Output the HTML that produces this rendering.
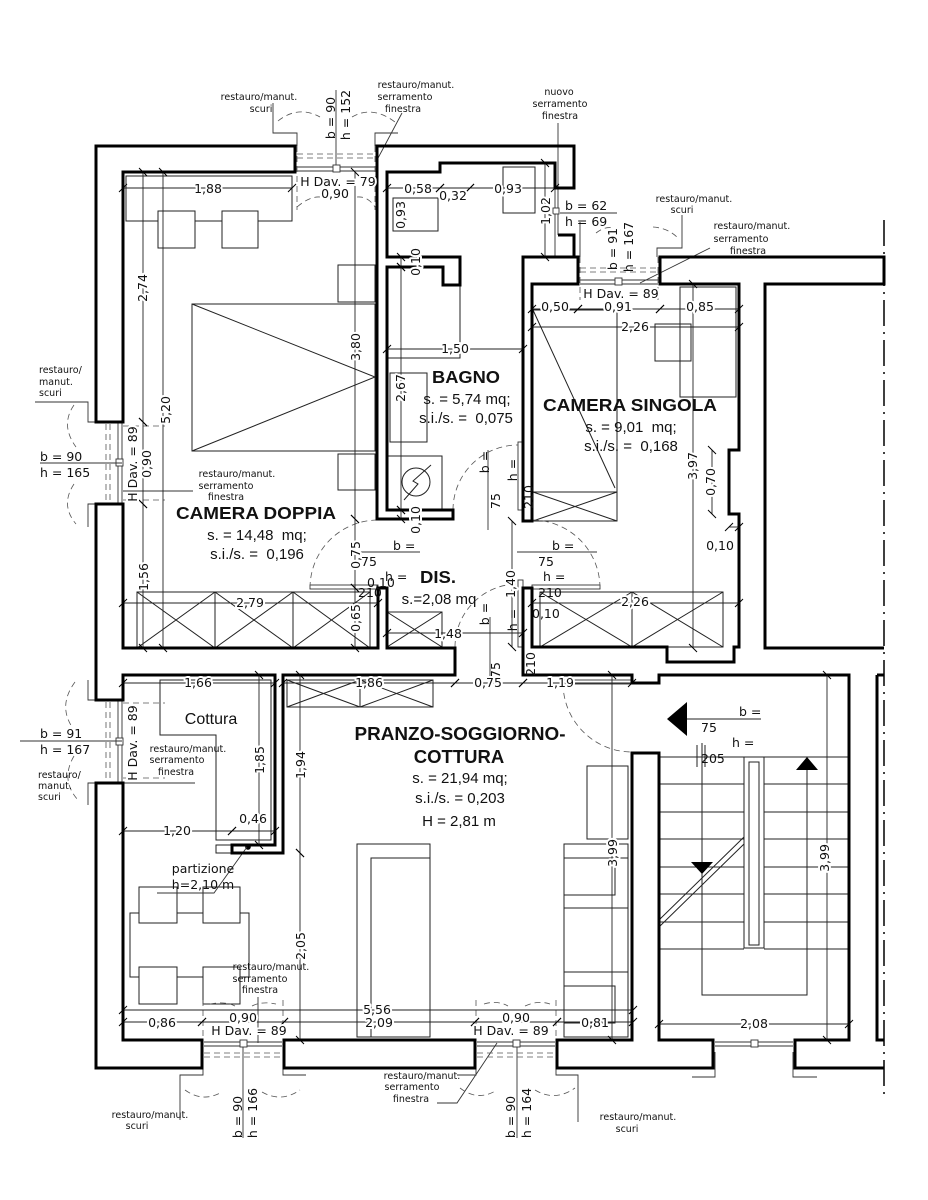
<!DOCTYPE html>
<html><head><meta charset="utf-8"><style>
html,body{margin:0;padding:0;background:#fff}
svg{display:block}
text{font-family:"DejaVu Sans","Liberation Sans",sans-serif;font-size:12.5px;fill:#111;white-space:pre}
.d{stroke:#fff;stroke-width:4px;paint-order:stroke;stroke-linejoin:round}
.s{font-size:9.5px}
.b{font-family:"Liberation Sans",sans-serif;font-weight:bold;font-size:17.5px}
.r{font-family:"Liberation Sans",sans-serif;font-size:15px}
</style></head><body>
<svg width="928" height="1200" viewBox="0 0 928 1200" xmlns="http://www.w3.org/2000/svg" xml:space="preserve">
<defs>
<marker id="t" markerUnits="userSpaceOnUse" markerWidth="12" markerHeight="12" refX="6" refY="6" orient="auto"><path d="M2,10 L10,2" stroke="#000" stroke-width="1" fill="none"/></marker>
</defs>
<rect width="928" height="1200" fill="#fff"/>

<!-- property dash-dot line -->
<line x1="884" y1="220" x2="884" y2="1100" stroke="#111" stroke-width="1.6" stroke-dasharray="26,6,2,6"/>

<!-- furniture -->
<g stroke="#222" stroke-width="1" fill="none">
<rect x="126" y="176" width="166" height="45"/>
<rect x="158" y="211" width="37" height="37" fill="#fff"/>
<rect x="222" y="211" width="36" height="37" fill="#fff"/>
<rect x="338" y="265" width="37" height="37"/>
<rect x="192" y="304" width="183" height="147"/>
<path d="M192,304 L375,377 L192,451"/>
<rect x="338" y="454" width="37" height="36"/>
<rect x="137" y="592" width="233" height="56"/>
<path d="M215,592 V648 M293,592 V648 M137,592 L215,648 M137,648 L215,592 M215,592 L293,648 M215,648 L293,592 M293,592 L370,648 M293,648 L370,592"/>
<!-- bath -->
<rect x="393" y="198" width="45" height="33"/>
<rect x="503" y="167" width="32" height="46"/>
<path d="M460,285 V358 H387"/>
<rect x="390" y="373" width="37" height="69"/>
<rect x="387" y="456" width="55" height="54"/>
<circle cx="416" cy="482" r="14"/>
<path d="M404,500 L418,484 L413,481 L431,465"/>
<!-- dis closet -->
<rect x="387" y="612" width="55" height="35"/>
<path d="M387,612 L442,647 M387,647 L442,612"/>
<!-- camera singola -->
<rect x="533" y="310" width="84" height="211"/>
<path d="M533,310 L615,488 M533,492 H617 M533,492 L617,521 M533,521 L617,492"/>
<rect x="655" y="324" width="36" height="37"/>
<rect x="680" y="287" width="56" height="110"/>
<rect x="540" y="592" width="183" height="55"/>
<path d="M632,592 V647 M540,592 L632,647 M540,647 L632,592 M632,592 L723,647 M632,647 L723,592"/>
<!-- cottura -->
<path d="M160,680 H271 V840 H216 V735 H160 Z"/>
<rect x="216" y="845" width="16" height="8"/>
<!-- pranzo -->
<rect x="287" y="680" width="146" height="27"/>
<path d="M360,680 V707 M287,680 L360,707 M287,707 L360,680 M360,680 L433,707 M360,707 L433,680"/>
<rect x="130" y="913" width="119" height="64"/>
<rect x="139" y="887" width="38" height="36" fill="#fff"/>
<rect x="203" y="887" width="37" height="36" fill="#fff"/>
<rect x="139" y="967" width="38" height="37" fill="#fff"/>
<rect x="203" y="967" width="37" height="37" fill="#fff"/>
<rect x="357" y="844" width="73" height="193"/>
<path d="M371,1037 V858 H430"/>
<rect x="587" y="766" width="41" height="73"/>
<rect x="564" y="844" width="64" height="193"/>
<path d="M564,858 H628 M564,895 H615 V858 M564,908 H628 M564,972 H628 M564,986 H615 V1023 H564"/>
<!-- stairs -->
<path d="M659,757 H849 M659,784 H744 M764,784 H849 M659,812 H744 M764,812 H849 M659,839 H744 M764,839 H849 M659,867 H744 M764,867 H849 M659,894 H744 M764,894 H849 M659,922 H744 M764,922 H849 M659,949 H744 M764,949 H849"/>
<rect x="744" y="757" width="20" height="191" fill="#fff"/>
<rect x="749" y="762" width="10" height="183"/>
<path d="M659,920 L744,837 M659,927 L744,844"/>
<path d="M702,743 V862 M702,873 V995 H807 V769"/>
<path d="M687,719 H761"/>
<path d="M697,745 V767 M705,745 V767"/>
</g>
<g fill="#000">
<path d="M691,862 H713 L702,874 Z"/>
<path d="M796,770 H818 L807,757 Z"/>
<path d="M667,719 L687,702 V736 Z"/>
<circle cx="248" cy="847" r="2.8"/>
</g>

<!-- windows & thin details -->
<g stroke="#333" stroke-width="0.9" fill="none">
<path d="M297,167 H375 M297,171 H375"/>
<rect x="333" y="165" width="7" height="7" fill="#fff"/>
<path d="M273,103 V133 H297 V146 M375,146 V133 H398"/>
<path d="M336,90 V165"/>
<path d="M402,113 L377,160"/>
<path d="M580,280 H658 M580,284 H658"/>
<rect x="615" y="278" width="7" height="7" fill="#fff"/>
<path d="M682,215 V248 H657 V257 M580,222 V257"/>
<path d="M710,248 L640,283"/>
<path d="M560,213 H617"/>
<path d="M555,188 V235 M558,188 V235 M555,235 V257"/>
<rect x="553" y="208" width="6" height="6" fill="#fff"/>
<path d="M558,123 V188"/>
<path d="M118,422 V504 M122,422 V504"/>
<rect x="116" y="459" width="7" height="7" fill="#fff"/>
<path d="M35,402 H88 V422 H96 M88,527 V504 H96"/>
<path d="M40,463 H122"/>
<path d="M123,491 H193"/>
<path d="M118,700 V783 M122,700 V783"/>
<rect x="116" y="738" width="7" height="7" fill="#fff"/>
<path d="M88,680 V700 H96 M88,805 V783 H96"/>
<path d="M20,741 H122"/>
<path d="M123,783 H195"/>
<path d="M204,1042 H282 M204,1046 H282"/>
<rect x="240" y="1040" width="7" height="7" fill="#fff"/>
<path d="M180,1120 V1075 H203 V1052 M283,1052 V1075 H306"/>
<path d="M243,1047 V1138 M258,997 V1043"/>
<path d="M477,1042 H555 M477,1046 H555"/>
<rect x="513" y="1040" width="7" height="7" fill="#fff"/>
<path d="M457,1075 H476 V1052 M556,1052 V1075 H578 V1122"/>
<path d="M517,1047 V1138"/>
<path d="M437,1103 H457 L497,1043"/>
<path d="M715,1042 H793 M715,1046 H793"/>
<rect x="751" y="1040" width="7" height="7" fill="#fff"/>
<path d="M692,1077 H715 V1052 M793,1052 V1077 H817"/>
<path d="M247,847 L214,893 H157"/>
<rect x="310" y="585" width="68" height="4" fill="#fff"/>
<rect x="532" y="585" width="68" height="4" fill="#fff"/>
<rect x="518" y="442" width="5" height="68" fill="#fff"/>
<rect x="518" y="580" width="5" height="67" fill="#fff"/>
<rect x="563" y="680" width="69" height="4" fill="#fff"/>
<path d="M357,552 H420 M517,552 H597 M488,450 V530 M490,617 V683"/>
</g>

<!-- dashed -->
<g stroke="#555" stroke-width="0.8" fill="none" stroke-dasharray="6,4">
<path d="M297,154 H375 M297,158 H375 M297,146 V210 M375,146 V210"/>
<path d="M278,121 Q298,105 320,117 M352,117 Q372,105 395,122 M297,207 Q310,196 320,197 M357,197 Q368,196 375,207"/>
<path d="M580,268 H658 M580,272 H658 M580,257 V300 M658,257 V300"/>
<path d="M596,233 Q605,226 613,228 M653,227 Q668,228 678,238"/>
<path d="M106,424 V502 M110,424 V502 M123,426 H165 M123,500 H165"/>
<path d="M74,405 Q60,425 76,447 M74,484 Q60,505 76,524"/>
<path d="M106,702 V781 M110,702 V781 M123,703 H165 M123,778 H165"/>
<path d="M75,682 Q58,705 72,727 M74,756 Q60,780 78,800"/>
<path d="M204,1053 H282 M204,1057 H282 M203,1000 V1040 M283,1000 V1040"/>
<path d="M185,1090 Q203,1103 222,1092 M262,1092 Q281,1103 300,1090 M210,1004 Q225,1001 235,1006 M252,1006 Q262,1001 276,1004"/>
<path d="M477,1053 H555 M477,1057 H555 M476,1000 V1040 M556,1000 V1040"/>
<path d="M460,1088 Q478,1102 497,1090 M535,1090 Q555,1102 575,1088 M484,1004 Q497,1000 508,1006 M525,1006 Q538,1000 550,1004"/>
<path d="M310,588 A68,68 0 0 1 378,520"/>
<path d="M600,588 A68,68 0 0 0 532,520"/>
<path d="M453,510 A65,65 0 0 1 518,445"/>
<path d="M455,647 A63,63 0 0 1 518,584"/>
<path d="M563,683 A69,69 0 0 0 632,752"/>
</g>

<!-- dimension lines -->
<g stroke="#222" stroke-width="0.9" fill="none" marker-start="url(#t)" marker-end="url(#t)">
<line x1="123" y1="188" x2="292" y2="188"/>
<line x1="387" y1="188" x2="440" y2="188"/>
<line x1="440" y1="188" x2="470" y2="188"/>
<line x1="470" y1="188" x2="555" y2="188"/>
<line x1="532" y1="309" x2="578" y2="309"/>
<line x1="578" y1="309" x2="660" y2="309"/>
<line x1="660" y1="309" x2="739" y2="309"/>
<line x1="532" y1="327" x2="739" y2="327"/>
<line x1="387" y1="349" x2="523" y2="349"/>
<line x1="123" y1="603" x2="378" y2="603"/>
<line x1="532" y1="603" x2="739" y2="603"/>
<line x1="387" y1="633" x2="523" y2="633"/>
<line x1="729" y1="527" x2="739" y2="527"/>
<line x1="123" y1="683" x2="275" y2="683"/>
<line x1="283" y1="683" x2="455" y2="683"/>
<line x1="455" y1="683" x2="523" y2="683"/>
<line x1="523" y1="683" x2="632" y2="683"/>
<line x1="123" y1="831" x2="232" y2="831"/>
<line x1="232" y1="831" x2="275" y2="831"/>
<line x1="123" y1="1010" x2="633" y2="1010"/>
<line x1="123" y1="1022" x2="202" y2="1022"/>
<line x1="202" y1="1022" x2="284" y2="1022"/>
<line x1="284" y1="1022" x2="475" y2="1022"/>
<line x1="475" y1="1022" x2="557" y2="1022"/>
<line x1="557" y1="1022" x2="633" y2="1022"/>
<line x1="659" y1="1024" x2="849" y2="1024"/>
<line x1="143" y1="172" x2="143" y2="422"/>
<line x1="143" y1="422" x2="143" y2="504"/>
<line x1="143" y1="504" x2="143" y2="648"/>
<line x1="163" y1="172" x2="163" y2="648"/>
<line x1="355" y1="172" x2="355" y2="519"/>
<line x1="355" y1="519" x2="355" y2="588"/>
<line x1="355" y1="588" x2="355" y2="648"/>
<line x1="401" y1="257" x2="401" y2="267"/>
<line x1="401" y1="267" x2="401" y2="510"/>
<line x1="401" y1="510" x2="401" y2="519"/>
<line x1="545" y1="163" x2="545" y2="257"/>
<line x1="693" y1="284" x2="693" y2="648"/>
<line x1="712" y1="450" x2="712" y2="514"/>
<line x1="512" y1="521" x2="512" y2="647"/>
<line x1="259" y1="675" x2="259" y2="845"/>
<line x1="300" y1="675" x2="300" y2="853"/>
<line x1="300" y1="853" x2="300" y2="1040"/>
<line x1="612" y1="675" x2="612" y2="1040"/>
<line x1="827" y1="675" x2="827" y2="1040"/>
</g>

<!-- walls -->
<path fill="none" stroke="#000" stroke-width="3" stroke-linejoin="miter" d="
M295,146 H96 V422 H123 V172 H295 Z
M96,504 H123 V648 H378 V588 H387 V648 H455 V675 H283 V853 H232 V845 H275 V675 H123 V700 H96 Z
M96,783 H123 V1040 H202 V1068 H96 Z
M284,1068 V1040 H475 V1068 Z
M557,1068 V1040 H632 V753 H659 V1040 H713 V1068 Z
M884,1068 H795 V1040 H849 V675 H659 V683 H632 V675 H523 V588 H532 V647 H667 V662 H734 V647 H739 V514 H729 V450 H739 V284 H660 V257 H884 V284 H765 V648 H884
M523,521 H532 V284 H578 V257 H523 Z
M574,257 V235 H558
M377,146 V519 H453 V510 H387 V267 H443 V285 H460 V257 H387 V172 H440 V163 H555 V188 H574 V146 Z
M877,675 H884 M877,675 V1040 H884"/>

<!-- small labels -->
<g>
<text class="s" x="259" y="100" text-anchor="middle">restauro/manut.</text>
<text class="s" x="261" y="112" text-anchor="middle">scuri</text>
<text class="s" x="416" y="88" text-anchor="middle">restauro/manut.</text>
<text class="s" x="405" y="100" text-anchor="middle">serramento</text>
<text class="s" x="403" y="112" text-anchor="middle">finestra</text>
<text class="s" x="559" y="95" text-anchor="middle">nuovo</text>
<text class="s" x="560" y="107" text-anchor="middle">serramento</text>
<text class="s" x="560" y="119" text-anchor="middle">finestra</text>
<text class="s" x="694" y="202" text-anchor="middle">restauro/manut.</text>
<text class="s" x="682" y="213" text-anchor="middle">scuri</text>
<text class="s" x="752" y="229" text-anchor="middle">restauro/manut.</text>
<text class="s" x="741" y="242" text-anchor="middle">serramento</text>
<text class="s" x="748" y="254" text-anchor="middle">finestra</text>
<text class="s" x="39" y="373">restauro/</text>
<text class="s" x="39" y="385">manut.</text>
<text class="s" x="39" y="396">scuri</text>
<text class="s d" x="237" y="477" text-anchor="middle">restauro/manut.</text>
<text class="s d" x="226" y="489" text-anchor="middle">serramento</text>
<text class="s d" x="226" y="500" text-anchor="middle">finestra</text>
<text class="s" x="38" y="778">restauro/</text>
<text class="s" x="38" y="789">manut.</text>
<text class="s" x="38" y="800">scuri</text>
<text class="s" x="188" y="752" text-anchor="middle">restauro/manut.</text>
<text class="s" x="177" y="763" text-anchor="middle">serramento</text>
<text class="s" x="176" y="775" text-anchor="middle">finestra</text>
<text class="s" x="271" y="970" text-anchor="middle">restauro/manut.</text>
<text class="s" x="260" y="982" text-anchor="middle">serramento</text>
<text class="s" x="260" y="993" text-anchor="middle">finestra</text>
<text class="s" x="150" y="1118" text-anchor="middle">restauro/manut.</text>
<text class="s" x="137" y="1129" text-anchor="middle">scuri</text>
<text class="s" x="422" y="1079" text-anchor="middle">restauro/manut.</text>
<text class="s" x="412" y="1090" text-anchor="middle">serramento</text>
<text class="s" x="411" y="1102" text-anchor="middle">finestra</text>
<text class="s" x="638" y="1120" text-anchor="middle">restauro/manut.</text>
<text class="s" x="627" y="1132" text-anchor="middle">scuri</text>
</g>

<!-- dimension / window texts -->
<g>
<text transform="translate(335,118) rotate(-90)" text-anchor="middle">b = 90</text>
<text transform="translate(350,115) rotate(-90)" text-anchor="middle">h = 152</text>
<text class="d" x="338" y="186" text-anchor="middle">H Dav. = 79</text>
<text class="d" x="335" y="198" text-anchor="middle">0,90</text>
<text class="d" x="208" y="193" text-anchor="middle">1,88</text>
<text class="d" x="418" y="193" text-anchor="middle">0,58</text>
<text class="d" x="453" y="200" text-anchor="middle">0,32</text>
<text class="d" x="508" y="193" text-anchor="middle">0,93</text>
<text class="d" transform="translate(405,215) rotate(-90)" text-anchor="middle">0,93</text>
<text class="d" transform="translate(420,262) rotate(-90)" text-anchor="middle">0,10</text>
<text class="d" transform="translate(550,211) rotate(-90)" text-anchor="middle">1,02</text>
<text x="565" y="210">b = 62</text>
<text x="565" y="226">h = 69</text>
<text transform="translate(617,249) rotate(-90)" text-anchor="middle">b = 91</text>
<text transform="translate(633,247) rotate(-90)" text-anchor="middle">h = 167</text>
<text class="d" x="621" y="298" text-anchor="middle">H Dav. = 89</text>
<text class="d" x="555" y="311" text-anchor="middle">0,50</text>
<text class="d" x="618" y="311" text-anchor="middle">0,91</text>
<text class="d" x="700" y="311" text-anchor="middle">0,85</text>
<text class="d" x="635" y="331" text-anchor="middle">2,26</text>
<text class="d" transform="translate(147,288) rotate(-90)" text-anchor="middle">2,74</text>
<text class="d" transform="translate(360,347) rotate(-90)" text-anchor="middle">3,80</text>
<text class="d" transform="translate(170,410) rotate(-90)" text-anchor="middle">5,20</text>
<text class="d" x="455" y="353" text-anchor="middle">1,50</text>
<text class="d" transform="translate(405,388) rotate(-90)" text-anchor="middle">2,67</text>
<text class="d" transform="translate(420,520) rotate(-90)" text-anchor="middle">0,10</text>
<text x="40" y="461">b = 90</text>
<text x="40" y="477">h = 165</text>
<text class="d" transform="translate(137,464) rotate(-90)" text-anchor="middle">H Dav. = 89</text>
<text class="d" transform="translate(151,464) rotate(-90)" text-anchor="middle">0,90</text>
<text class="d" transform="translate(148,577) rotate(-90)" text-anchor="middle">1,56</text>
<text class="d" x="250" y="607" text-anchor="middle">2,79</text>
<text class="d" transform="translate(360,618) rotate(-90)" text-anchor="middle">0,65</text>
<text class="d" transform="translate(360,555) rotate(-90)" text-anchor="middle">0,75</text>
<text x="393" y="550">b =</text>
<text x="361" y="566">75</text>
<text x="367" y="587">0,10</text>
<text x="385" y="581">h =</text>
<text x="358" y="597">210</text>
<text class="d" x="448" y="638" text-anchor="middle">1,48</text>
<text transform="translate(489,462) rotate(-90)" text-anchor="middle">b =</text>
<text transform="translate(517,470) rotate(-90)" text-anchor="middle">h =</text>
<text transform="translate(500,501) rotate(-90)" text-anchor="middle">75</text>
<text transform="translate(533,497) rotate(-90)" text-anchor="middle">210</text>
<text transform="translate(489,614) rotate(-90)" text-anchor="middle">b =</text>
<text transform="translate(517,620) rotate(-90)" text-anchor="middle">h =</text>
<text transform="translate(500,670) rotate(-90)" text-anchor="middle">75</text>
<text transform="translate(535,664) rotate(-90)" text-anchor="middle">210</text>
<text class="d" transform="translate(515,584) rotate(-90)" text-anchor="middle">1,40</text>
<text x="552" y="550">b =</text>
<text x="538" y="566">75</text>
<text x="543" y="581">h =</text>
<text x="538" y="597">210</text>
<text x="532" y="618">0,10</text>
<text class="d" x="635" y="606" text-anchor="middle">2,26</text>
<text class="d" transform="translate(697,466) rotate(-90)" text-anchor="middle">3,97</text>
<text class="d" transform="translate(715,482) rotate(-90)" text-anchor="middle">0,70</text>
<text x="720" y="550" text-anchor="middle">0,10</text>
<text class="d" x="198" y="687" text-anchor="middle">1,66</text>
<text class="d" x="369" y="687" text-anchor="middle">1,86</text>
<text class="d" x="488" y="687" text-anchor="middle">0,75</text>
<text class="d" x="560" y="687" text-anchor="middle">1,19</text>
<text x="40" y="738">b = 91</text>
<text x="40" y="754">h = 167</text>
<text class="d" transform="translate(137,743) rotate(-90)" text-anchor="middle">H Dav. = 89</text>
<text class="d" transform="translate(264,760) rotate(-90)" text-anchor="middle">1,85</text>
<text class="d" transform="translate(305,765) rotate(-90)" text-anchor="middle">1,94</text>
<text class="d" x="177" y="835" text-anchor="middle">1,20</text>
<text class="d" x="253" y="823" text-anchor="middle">0,46</text>
<text x="203" y="873" text-anchor="middle">partizione</text>
<text x="203" y="889" text-anchor="middle">h=2,10 m</text>
<text class="d" transform="translate(305,946) rotate(-90)" text-anchor="middle">2,05</text>
<text class="d" x="162" y="1027" text-anchor="middle">0,86</text>
<text class="d" x="243" y="1022" text-anchor="middle">0,90</text>
<text class="d" x="249" y="1035" text-anchor="middle">H Dav. = 89</text>
<text class="d" x="377" y="1014" text-anchor="middle">5,56</text>
<text class="d" x="379" y="1027" text-anchor="middle">2,09</text>
<text class="d" x="516" y="1022" text-anchor="middle">0,90</text>
<text class="d" x="511" y="1035" text-anchor="middle">H Dav. = 89</text>
<text class="d" x="595" y="1027" text-anchor="middle">0,81</text>
<text class="d" x="754" y="1028" text-anchor="middle">2,08</text>
<text class="d" transform="translate(617,853) rotate(-90)" text-anchor="middle">3,99</text>
<text class="d" transform="translate(829,858) rotate(-90)" text-anchor="middle">3,99</text>
<text transform="translate(242,1117) rotate(-90)" text-anchor="middle">b = 90</text>
<text transform="translate(257,1113) rotate(-90)" text-anchor="middle">h = 166</text>
<text transform="translate(515,1117) rotate(-90)" text-anchor="middle">b = 90</text>
<text transform="translate(531,1113) rotate(-90)" text-anchor="middle">h = 164</text>
<text x="739" y="716">b =</text>
<text x="701" y="732">75</text>
<text x="732" y="747">h =</text>
<text x="701" y="763">205</text>
</g>

<!-- room labels -->
<g>
<text class="b" x="466" y="383" text-anchor="middle" textLength="68" lengthAdjust="spacingAndGlyphs">BAGNO</text>
<text class="r" x="467" y="404" text-anchor="middle">s. = 5,74 mq;</text>
<text class="r" x="466" y="423" text-anchor="middle">s.i./s. =  0,075</text>
<text class="b" x="630" y="411" text-anchor="middle" textLength="174" lengthAdjust="spacingAndGlyphs">CAMERA SINGOLA</text>
<text class="r" x="631" y="432" text-anchor="middle">s. = 9,01  mq;</text>
<text class="r" x="631" y="451" text-anchor="middle">s.i./s. =  0,168</text>
<text class="b" x="256" y="519" text-anchor="middle" textLength="160" lengthAdjust="spacingAndGlyphs">CAMERA DOPPIA</text>
<text class="r" x="257" y="540" text-anchor="middle">s. = 14,48  mq;</text>
<text class="r" x="257" y="559" text-anchor="middle">s.i./s. =  0,196</text>
<text class="b" x="438" y="583" text-anchor="middle" textLength="36" lengthAdjust="spacingAndGlyphs">DIS.</text>
<text class="r" x="439" y="604" text-anchor="middle">s.=2,08 mq</text>
<text class="r d" x="211" y="724" text-anchor="middle" style="font-size:16px">Cottura</text>
<text class="b" x="460" y="740" text-anchor="middle" textLength="211" lengthAdjust="spacingAndGlyphs" style="font-size:18.5px">PRANZO-SOGGIORNO-</text>
<text class="b" x="459" y="763" text-anchor="middle" style="font-size:18.5px">COTTURA</text>
<text class="r" x="460" y="783" text-anchor="middle">s. = 21,94 mq;</text>
<text class="r" x="460" y="803" text-anchor="middle">s.i./s. = 0,203</text>
<text class="r" x="459" y="826" text-anchor="middle">H = 2,81 m</text>
</g>
</svg>
</body></html>
